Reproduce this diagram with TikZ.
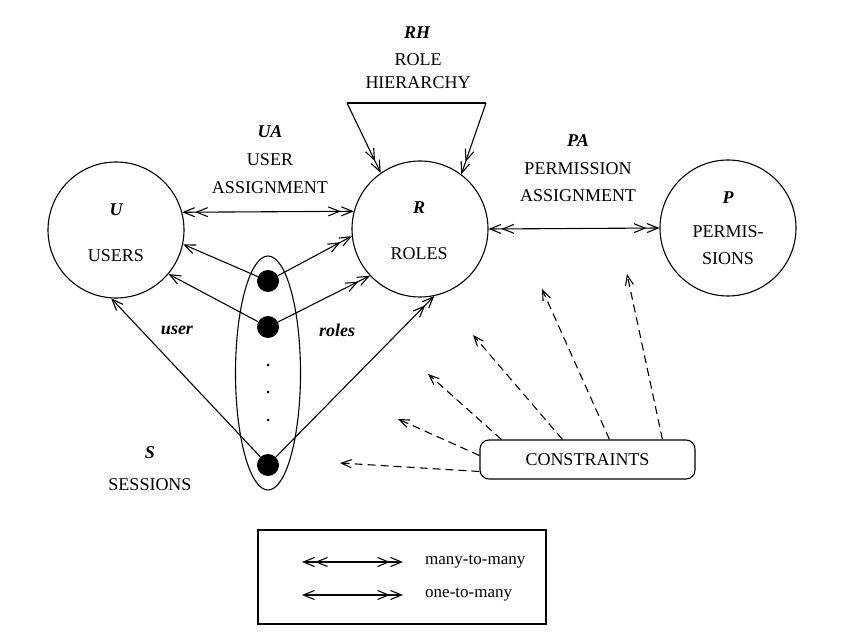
\documentclass[tikz,border=0pt]{standalone}
\usepackage{fontspec}
\setmainfont{Liberation Serif}
\usetikzlibrary{arrows.meta,shapes.geometric,calc}
\begin{document}
\begin{tikzpicture}[x=1pt,y=-1pt,
  txt/.style={font=\fontsize{18}{21}\selectfont, inner sep=0pt},
  smalltxt/.style={font=\fontsize{17}{20}\selectfont, inner sep=0pt},
  lab/.style={font=\fontsize{18}{21}\selectfont\bfseries\itshape, inner sep=0pt},
  ent/.style={circle, draw, line width=1.1pt, minimum size=136pt, inner sep=0pt},
  sess/.style={circle, fill, minimum size=22pt, inner sep=0pt},
  tinydot/.style={circle, fill, minimum size=3pt, inner sep=0pt},
  ln/.style={line width=1.1pt},
  cn/.style={line width=1.1pt, dash pattern=on 8pt off 5pt, -{Straight Barb[length=10pt,width=8pt]}},
  >={Straight Barb[length=11pt,width=9pt]},
]
\useasboundingbox (0,0) rectangle (851,636);

% entity circles
\node[ent] (U) at (116,230) {};
\node[ent] (R) at (420,229) {};
\node[ent] (P) at (728,228) {};

\node[lab] (Ul) at (116,210) {U};
\node[txt] (Ut) at (116,256) {USERS};
\node[lab] (Rl) at (419,208) {R};
\node[txt] (Rt) at (419,254) {ROLES};
\node[lab] (Pl) at (728,198) {P};
\node[txt] (Pt1) at (728,232) {PERMIS-};
\node[txt] (Pt2) at (728,259) {SIONS};

% role hierarchy
\node[lab] (RHl) at (417,33) {RH};
\node[txt] (RHt1) at (418,60) {ROLE};
\node[txt] (RHt2) at (418,83) {HIERARCHY};
\coordinate (h1) at (347,103);
\coordinate (h2) at (486,103);
\draw[ln] (h1) -- (h2);
\draw[ln,->>] (h1) -- (R.125);
\draw[ln,->>] (h2) -- (R.53);

% user assignment
\node[lab] (UAl) at (270,132) {UA};
\node[txt] (UAt1) at (270,160) {USER};
\node[txt] (UAt2) at (270,188) {ASSIGNMENT};
\draw[ln,<<->>] (U.15) -- (R.165);

% permission assignment
\node[lab] (PAl) at (578,141) {PA};
\node[txt] (PAt1) at (578,169) {PERMISSION};
\node[txt] (PAt2) at (578,196) {ASSIGNMENT};
\draw[ln,<<->>] (R.east) -- (P.west);

% sessions
\node[draw, line width=1.1pt, ellipse, minimum width=65pt, minimum height=234pt, inner sep=0pt] (S) at (268,373) {};
\node[sess] (d1) at (268,281) {};
\node[sess] (d2) at (268,327) {};
\node[sess] (d3) at (268,465) {};
\node[tinydot] (e1) at (268,365) {};
\node[tinydot] (e2) at (268,392) {};
\node[tinydot] (e3) at (268,420) {};

\draw[ln,->] (d1) -- (U.-12);
\draw[ln,->>] (d1) -- (R.186);
\draw[ln,->] (d2) -- (U.-40);
\draw[ln,->>] (d2) -- (R.223);
\draw[ln,->] (d3) -- (U.-94);
\draw[ln,->>] (d3) -- (R.-78);

\node[lab] (userl) at (177,330) {user};
\node[lab] (rolesl) at (337,330) {roles};
\node[lab] (Sl) at (150,453) {S};
\node[txt] (St) at (150,485) {SESSIONS};

% constraints
\node[draw, line width=1.1pt, rounded corners=9pt, minimum width=215pt, minimum height=39pt, txt] (C) at (587.5,459.5) {CONSTRAINTS};
\coordinate (t1) at (340,463);
\coordinate (t2) at (398,419);
\coordinate (t3) at (428,374);
\coordinate (t4) at (473,335);
\coordinate (t5) at (542,289);
\coordinate (t6) at (627,274);
\draw[cn] ([yshift=-12pt]C.west) -- (t1);
\draw[cn] ([yshift=4pt]C.west) -- (t2);
\draw[cn] ([xshift=22pt]C.north west) -- (t3);
\draw[cn] ([xshift=83pt]C.north west) -- (t4);
\draw[cn] ([xshift=130pt]C.north west) -- (t5);
\draw[cn] ([xshift=183pt]C.north west) -- (t6);

% legend
\node[draw, line width=1.1pt, minimum width=288pt, minimum height=94pt, inner sep=0pt] (L) at (402,577) {};
\coordinate (a1) at (302,562);
\coordinate (a2) at (403,562);
\coordinate (b1) at (302,595);
\coordinate (b2) at (403,595);
\draw[ln,<<->>] (a1) -- (a2);
\draw[ln,<->>] (b1) -- (b2);
\node[smalltxt, anchor=west] (m2m) at (425,562) {many-to-many};
\node[smalltxt, anchor=west] (o2m) at (425,595) {one-to-many};
\end{tikzpicture}
\end{document}
